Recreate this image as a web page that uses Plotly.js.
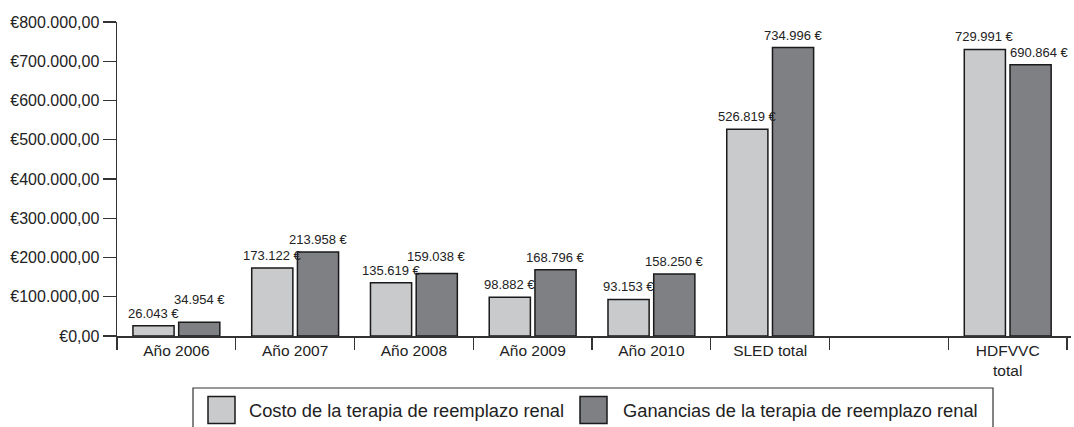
<!DOCTYPE html>
<html>
<head>
<meta charset="utf-8">
<script src="https://cdn.plot.ly/plotly-3.0.1.min.js"></script>
<style>html,body{margin:0;padding:0;background:#fff;}#chart{width:1074px;height:427px;}</style>
</head>
<body>
<div id="chart"></div>
<script>
// ---- data ----
var categories = ["Año 2006", "Año 2007", "Año 2008", "Año 2009", "Año 2010", "SLED total", " ", "HDFVVC<br>total"];
var costo = [26043, 173122, 135619, 98882, 93153, 526819, null, 729991];
var ganancias = [34954, 213958, 159038, 168796, 158250, 734996, null, 690864];
var seriesNames = ["Costo de la terapia de reemplazo renal", "Ganancias de la terapia de reemplazo renal"];
var yMax = 800000;

// ---- style / layout constants ----
var W = 1074, H = 427;
var M = {l: 117, r: 3, t: 22, b: 91};
var plotW = W - M.l - M.r, plotH = H - M.t - M.b;
var font = "Liberation Sans, Arial, Helvetica, sans-serif";
var colors = ["#c9cacc", "#7f8084"];
var outline = {color: "#1a1a1a", width: 1.5};
var bargap = 0.23, bargroupgap = 0.1;

function fmt(v) {
  var s = Math.round(v).toString().replace(/\B(?=(\d{3})+(?!\d))/g, ".");
  return s + " €";
}
function pxPerUnit() { return plotH / yMax; }
function px2paperX(px) { return (px - M.l) / plotW; }
function px2paperY(py) { return (H - M.b - py) / plotH; }

var traces = [costo, ganancias].map(function (vals, k) {
  return {type: "bar", name: seriesNames[k], x: categories, y: vals,
          marker: {color: colors[k], line: outline}, hoverinfo: "skip"};
});

// ---- value labels (annotations from the data arrays) ----
var annotations = [];
var slot = (1 - bargap) / 2;          // width of one trace slot in category units
var barHalf = slot * (1 - bargroupgap) / 2;
var labelFont = {family: font, size: 13, color: "#222"};
var baseShift = 3, lineStep = 14;
categories.forEach(function (c, i) {
  var a = costo[i], b = ganancias[i];
  if (a === null || b === null) return;
  var shiftA = baseShift, shiftB = baseShift;
  var diff = Math.abs(a - b) * pxPerUnit();
  if (diff < lineStep) {               // labels would collide: lift the taller one
    if (b >= a) shiftB += lineStep - diff; else shiftA += lineStep - diff;
  }
  var ann = {xref: "x", yref: "y", showarrow: false, font: labelFont, yanchor: "bottom"};
  annotations.push(Object.assign({}, ann, {x: i - slot / 2, y: a, text: fmt(a), xanchor: "center", yshift: shiftA}));
  var bAnn = Object.assign({}, ann, {y: b, text: fmt(b), yshift: shiftB});
  if (b < a) {                          // lower label next to a taller bar: align it to its own bar's left edge
    bAnn.x = i + slot / 2 - barHalf; bAnn.xanchor = "left"; bAnn.xshift = -2;
  } else { bAnn.x = i + slot / 2; bAnn.xanchor = "center"; }
  annotations.push(bAnn);
});

// ---- legend (drawn box with large swatches) ----
var shapes = [];
var legBox = {x0: 193, x1: 993, y0: 388, y1: 432};
shapes.push({type: "rect", xref: "paper", yref: "paper",
  x0: px2paperX(legBox.x0), x1: px2paperX(legBox.x1), y0: px2paperY(legBox.y1), y1: px2paperY(legBox.y0),
  line: {color: "#333", width: 1.2}, fillcolor: "rgba(0,0,0,0)"});
var legItems = [{sx: 208, tx: 247}, {sx: 580, tx: 621}];
legItems.forEach(function (it, k) {
  shapes.push({type: "rect", xref: "paper", yref: "paper",
    x0: px2paperX(it.sx), x1: px2paperX(it.sx + 27), y0: px2paperY(423.5), y1: px2paperY(396.5),
    line: {color: "#1a1a1a", width: 1.5}, fillcolor: colors[k]});
  annotations.push({xref: "paper", yref: "paper", x: px2paperX(it.tx), y: px2paperY(410),
    xanchor: "left", yanchor: "middle", showarrow: false, text: seriesNames[k],
    font: {family: font, size: 18.3, color: "#222"}});
});

var layout = {
  width: W, height: H,
  margin: {l: M.l, r: M.r, t: M.t, b: M.b, autoexpand: false},
  paper_bgcolor: "#fff", plot_bgcolor: "#fff",
  separators: ",.",
  font: {family: font, color: "#222"},
  barmode: "group", bargap: bargap, bargroupgap: bargroupgap,
  showlegend: false,
  annotations: annotations, shapes: shapes,
  xaxis: {type: "category", tickson: "boundaries", ticks: "outside", ticklen: 12, tickwidth: 1.3,
          tickcolor: "#333", showline: true, linecolor: "#333", linewidth: 1.5,
          showgrid: false, zeroline: false, fixedrange: true,
          tickfont: {family: font, size: 15.5, color: "#222"}},
  yaxis: {range: [0, yMax], dtick: 100000, tick0: 0, tickformat: ",.2f", tickprefix: "€",
          ticks: "outside", ticklen: 13, tickwidth: 1.3, tickcolor: "#333",
          showline: true, linecolor: "#333", linewidth: 1.5, showgrid: false, zeroline: false,
          fixedrange: true, tickfont: {family: font, size: 16, color: "#222"}}
};

Plotly.newPlot("chart", traces, layout, {staticPlot: true, displayModeBar: false});
</script>
</body>
</html>
